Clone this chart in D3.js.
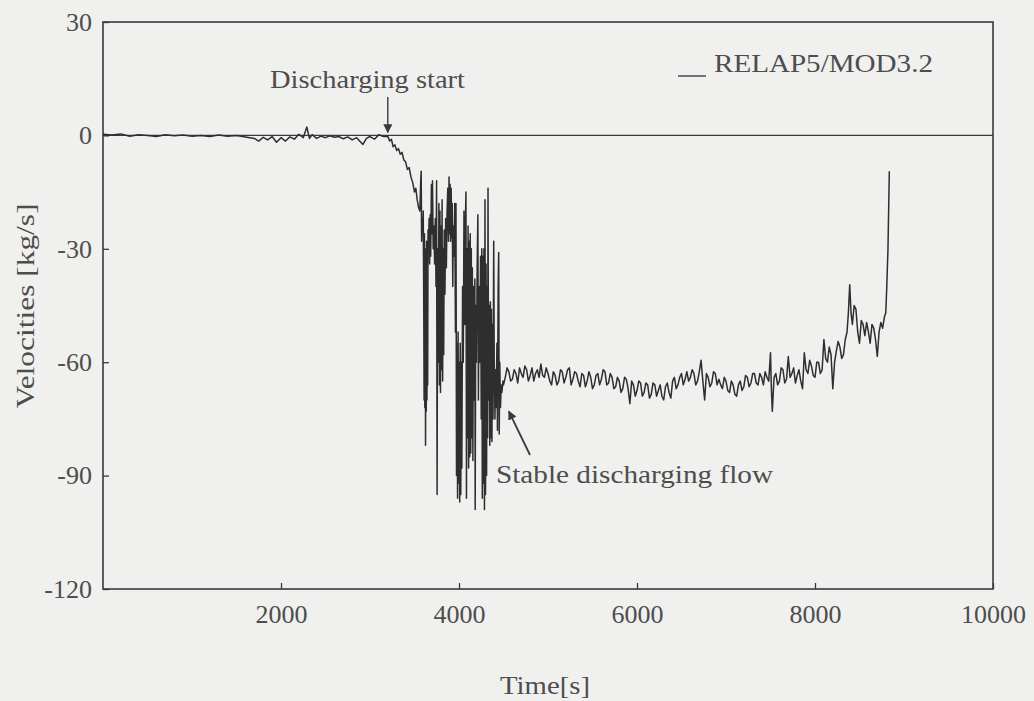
<!DOCTYPE html>
<html>
<head>
<meta charset="utf-8">
<script src="https://cdn.jsdelivr.net/npm/d3@7"></script>
<style>
  html, body { margin: 0; padding: 0; background: #f0f0ef; }
  svg { display: block; }
  text { font-family: "Liberation Serif", "DejaVu Serif", serif; fill: #4d4d4d; }
</style>
</head>
<body>
<svg id="chart" width="1034" height="701"></svg>
<script>
// Axis ticks
const xTicks = [2000, 4000, 6000, 8000, 10000];
const yTicks = [30, 0, -30, -60, -90, -120];

// Mass flow [kg/s] vs. time [s], RELAP5/MOD3.2
// Before discharge: flow hovers around zero
const preDischarge = [
  [0, 0.3], [100, 0.1], [200, 0.4], [300, -0.2], [400, 0.2], [500, 0], [600, -0.3],
  [700, 0.2], [800, -0.1], [900, 0.1], [1000, -0.2], [1100, 0], [1200, -0.3], [1300, 0.1],
  [1400, -0.2], [1500, 0], [1600, -0.4], [1700, -0.8], [1750, -1.5], [1800, -0.5],
  [1850, -1.2], [1900, -0.3], [1950, -1.8], [2000, -0.6], [2050, -1.5], [2100, -0.4],
  [2150, -1.0], [2200, 0.3], [2250, -0.6], [2290, 2.2], [2320, -0.8], [2350, 0.2],
  [2400, -0.8], [2450, -0.2], [2500, -0.6], [2550, -0.1], [2600, -0.5], [2650, -0.3],
  [2700, -0.9], [2750, -0.4], [2800, -1.2], [2850, -0.6], [2920, -2.4], [2960, -0.8],
  [3000, -0.3], [3050, -1.0], [3100, 0.2], [3150, -0.3], [3200, -0.2]
];

// Discharge onset: flow falls away from zero
const onset = [
  [3220, -1.5], [3240, -1.0], [3260, -3.0], [3280, -2.5], [3300, -4.0], [3320, -3.5],
  [3340, -5.0], [3360, -4.5], [3380, -6.5], [3400, -7.0], [3420, -9.0], [3440, -8.5],
  [3460, -11.0], [3480, -12.5], [3500, -15.0], [3515, -14.0], [3530, -17.0],
  [3545, -19.0], [3560, -20.0]
];

// Unstable discharge: large flow oscillations
const oscillation = [
  [3570, -12], [3575, -9.5], [3580, -28], [3586, -22], [3592, -26], [3598, -20],
  [3604, -45], [3608, -70], [3612, -26], [3616, -72], [3620, -30], [3624, -82],
  [3628, -35], [3632, -73], [3636, -28], [3640, -70], [3644, -40], [3648, -66],
  [3652, -25], [3658, -30], [3664, -22], [3670, -34], [3676, -21], [3682, -32],
  [3690, -13], [3696, -26], [3702, -12], [3710, -30], [3718, -24], [3726, -34],
  [3734, -22], [3742, -40], [3748, -12], [3754, -95], [3760, -30], [3768, -60],
  [3774, -18], [3780, -66], [3786, -20], [3792, -68], [3798, -24], [3804, -62],
  [3810, -17], [3816, -65], [3822, -30], [3828, -58], [3834, -25], [3842, -42],
  [3850, -22], [3858, -35], [3866, -20], [3874, -14], [3882, -28], [3888, -11],
  [3894, -26], [3900, -13], [3906, -28], [3912, -14], [3918, -27], [3924, -18],
  [3930, -40], [3936, -24], [3944, -32], [3952, -18], [3960, -52], [3966, -18],
  [3972, -90], [3978, -55], [3984, -96], [3990, -52], [3996, -92], [4002, -60],
  [4008, -97], [4014, -55], [4020, -95], [4026, -60], [4032, -88], [4040, -40],
  [4048, -60], [4056, -20], [4064, -50], [4072, -24], [4078, -15], [4084, -96],
  [4090, -30], [4096, -80], [4102, -24], [4108, -88], [4114, -28], [4120, -85],
  [4126, -26], [4132, -84], [4138, -30], [4144, -80], [4150, -35], [4156, -86],
  [4162, -40], [4170, -70], [4178, -38], [4182, -99], [4188, -45], [4196, -60],
  [4204, -35], [4212, -21], [4218, -70], [4226, -40], [4234, -60], [4242, -32],
  [4250, -75], [4256, -30], [4262, -96], [4268, -32], [4274, -92], [4280, -30],
  [4286, -99], [4292, -17], [4298, -95], [4304, -34], [4310, -90], [4316, -40],
  [4322, -80], [4326, -14], [4332, -70], [4340, -45], [4346, -82], [4352, -44],
  [4358, -80], [4364, -46], [4370, -81], [4376, -50], [4382, -75], [4390, -28],
  [4396, -60], [4404, -75], [4410, -62], [4418, -72], [4426, -55], [4432, -78],
  [4440, -40], [4446, -31], [4452, -79], [4458, -60], [4466, -72], [4474, -66],
  [4482, -68], [4494, -65]
];

// Stable discharging flow, then recovery near the end
const stableFlow = [
  [4500, -66], [4520, -64], [4540, -61.5], [4560, -62.5], [4580, -65], [4600, -64.5],
  [4620, -62], [4640, -63], [4660, -65.5], [4680, -61.5], [4700, -63], [4720, -64],
  [4740, -61], [4760, -62], [4780, -65], [4800, -63.5], [4820, -61.5], [4840, -65],
  [4860, -63], [4880, -62], [4900, -64], [4920, -60.5], [4940, -63.5], [4960, -64],
  [4980, -61.5], [5000, -63], [5020, -65], [5040, -66], [5060, -62.5], [5080, -63.5],
  [5100, -66], [5120, -65], [5140, -62], [5160, -62.5], [5180, -65.5], [5200, -64],
  [5220, -62], [5240, -61.5], [5260, -66], [5280, -64.5], [5300, -62.5], [5320, -63],
  [5340, -65], [5360, -66.5], [5380, -63], [5400, -63.5], [5420, -66.5], [5440, -65],
  [5460, -62.5], [5480, -64], [5500, -67], [5520, -66], [5540, -63.5], [5560, -63],
  [5580, -66], [5600, -64.5], [5620, -62], [5640, -62.5], [5660, -66], [5680, -65.5],
  [5700, -63], [5720, -64], [5740, -67], [5760, -66.5], [5780, -64], [5800, -65],
  [5820, -68], [5840, -67], [5860, -64], [5880, -64.5], [5900, -67], [5920, -71],
  [5940, -65], [5960, -66], [5980, -69], [6000, -67.5], [6020, -65], [6040, -65.5],
  [6060, -69], [6080, -68], [6100, -65.5], [6120, -66], [6140, -69.5], [6160, -68.5],
  [6180, -65.5], [6200, -66], [6220, -69], [6240, -67.5], [6260, -66], [6280, -69],
  [6300, -70], [6320, -66.5], [6340, -65.5], [6360, -68], [6380, -69.5], [6400, -65],
  [6420, -64], [6440, -67], [6460, -66], [6480, -64], [6500, -63], [6520, -66],
  [6540, -64.5], [6560, -62.5], [6580, -65], [6600, -64], [6620, -62], [6640, -63],
  [6660, -66], [6680, -65], [6700, -62.5], [6720, -59.5], [6740, -65], [6760, -70],
  [6780, -63], [6800, -64], [6820, -66.5], [6840, -65.5], [6860, -62.5], [6880, -63],
  [6900, -66], [6920, -64.5], [6940, -66], [6960, -67], [6980, -64], [7000, -65],
  [7020, -67.5], [7040, -68], [7060, -65], [7080, -66], [7100, -68.5], [7120, -69],
  [7140, -66], [7160, -65], [7180, -67.5], [7200, -66.5], [7220, -63.5], [7240, -64],
  [7260, -66.5], [7280, -65.5], [7300, -63], [7320, -63], [7340, -65.5], [7360, -66],
  [7380, -63], [7400, -64], [7420, -66], [7440, -62.5], [7460, -64], [7480, -65],
  [7500, -57.5], [7510, -67], [7520, -73], [7540, -64], [7560, -63], [7580, -66],
  [7600, -65], [7620, -61.5], [7640, -62], [7660, -65.5], [7680, -64.5], [7700, -58.5],
  [7720, -64], [7740, -63], [7760, -61.5], [7780, -65.5], [7800, -63.5], [7820, -62],
  [7840, -65], [7860, -67], [7880, -57.5], [7900, -62], [7920, -63], [7940, -59.5],
  [7960, -61], [7980, -63.5], [8000, -64], [8020, -60], [8040, -60], [8060, -63],
  [8080, -62], [8100, -54], [8120, -59], [8140, -60], [8160, -56], [8180, -58],
  [8200, -67], [8220, -60], [8240, -57], [8260, -54.5], [8280, -56], [8300, -59],
  [8320, -58], [8340, -54], [8360, -52], [8375, -47], [8390, -39.5], [8405, -47],
  [8420, -50], [8440, -45], [8460, -46], [8480, -52], [8500, -55], [8520, -49],
  [8540, -50], [8560, -53], [8580, -49.5], [8600, -52], [8620, -55], [8640, -50],
  [8660, -51], [8680, -54], [8700, -58.5], [8720, -52], [8740, -49.5], [8760, -51],
  [8780, -48], [8795, -47], [8805, -41], [8820, -30], [8835, -9.5]
];

const series = [...preDischarge, ...onset, ...oscillation, ...stableFlow];

const svg = d3.select("#chart");
const x = d3.scaleLinear().domain([0, 10000]).range([103, 993]);
const y = d3.scaleLinear().domain([-120, 30]).range([589, 22]);

const ink = "#3a3a3a";
const plain = d => String(d);

// Axes with inward ticks
const gx = svg.append("g")
  .attr("transform", `translate(0,${y(-120)})`)
  .call(d3.axisBottom(x).tickValues(xTicks).tickSize(-6).tickPadding(16).tickFormat(plain));
const gy = svg.append("g")
  .attr("transform", `translate(${x(0)},0)`)
  .call(d3.axisLeft(y).tickValues(yTicks).tickSize(-6).tickPadding(11).tickFormat(plain));
[gx, gy].forEach(g => {
  g.select(".domain").remove();
  g.selectAll(".tick line").attr("stroke", ink).attr("stroke-width", 1.3);
  g.selectAll(".tick text").attr("font-size", 26).attr("fill", "#4d4d4d")
    .attr("font-family", '"Liberation Serif", serif');
});

// Plot frame
svg.append("rect")
  .attr("x", x(0)).attr("y", y(30))
  .attr("width", x(10000) - x(0)).attr("height", y(-120) - y(30))
  .attr("fill", "none").attr("stroke", ink).attr("stroke-width", 1.6);

// Zero reference line
svg.append("line")
  .attr("x1", x(0)).attr("x2", x(10000))
  .attr("y1", y(0)).attr("y2", y(0))
  .attr("stroke", ink).attr("stroke-width", 1.4);

// Flow trace
svg.append("path")
  .datum(series)
  .attr("fill", "none")
  .attr("stroke", "#2e2e2e")
  .attr("stroke-width", 1.5)
  .attr("stroke-linejoin", "round")
  .attr("d", d3.line().x(d => x(d[0])).y(d => y(d[1])));

// Arrowhead marker
svg.append("defs").append("marker")
  .attr("id", "head").attr("viewBox", "0 0 10 10")
  .attr("refX", 9).attr("refY", 5)
  .attr("markerWidth", 9).attr("markerHeight", 9)
  .attr("markerUnits", "userSpaceOnUse")
  .attr("orient", "auto")
  .append("path").attr("d", "M0,0 L10,5 L0,10 Z").attr("fill", ink);

// Annotation: discharge start
svg.append("line")
  .attr("x1", x(3200)).attr("x2", x(3200))
  .attr("y1", 97).attr("y2", y(0) - 3)
  .attr("stroke", ink).attr("stroke-width", 1.4)
  .attr("marker-end", "url(#head)");
svg.append("text")
  .attr("x", 270).attr("y", 88)
  .attr("font-size", 26).attr("textLength", 195).attr("lengthAdjust", "spacingAndGlyphs")
  .text("Discharging start");

// Annotation: stable flow
svg.append("line")
  .attr("x1", 530).attr("y1", 455)
  .attr("x2", x(4560)).attr("y2", y(-73))
  .attr("stroke", ink).attr("stroke-width", 1.8)
  .attr("marker-end", "url(#head)");
svg.append("text")
  .attr("x", 496).attr("y", 483)
  .attr("font-size", 26).attr("textLength", 277).attr("lengthAdjust", "spacingAndGlyphs")
  .text("Stable discharging flow");

// Legend
svg.append("line")
  .attr("x1", 678).attr("x2", 706).attr("y1", 76).attr("y2", 76)
  .attr("stroke", "#555").attr("stroke-width", 1.6);
svg.append("text")
  .attr("x", 714).attr("y", 72)
  .attr("font-size", 26).attr("textLength", 219).attr("lengthAdjust", "spacingAndGlyphs")
  .text("RELAP5/MOD3.2");

// Axis titles
svg.append("text")
  .attr("transform", "translate(34,306) rotate(-90)")
  .attr("text-anchor", "middle")
  .attr("font-size", 26).attr("textLength", 205).attr("lengthAdjust", "spacingAndGlyphs")
  .text("Velocities [kg/s]");
svg.append("text")
  .attr("x", 545).attr("y", 694)
  .attr("text-anchor", "middle")
  .attr("font-size", 26).attr("textLength", 90).attr("lengthAdjust", "spacingAndGlyphs")
  .text("Time[s]");
</script>
</body>
</html>
